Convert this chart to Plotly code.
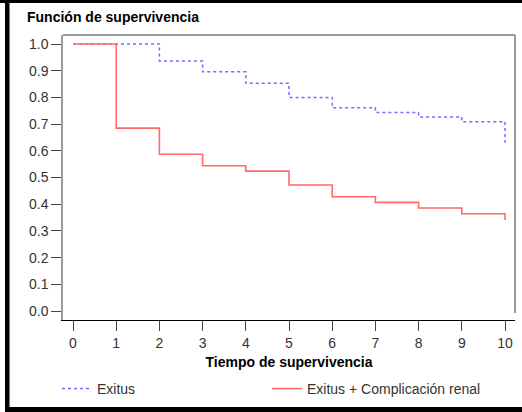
import plotly.graph_objects as go

tiempo = [0, 1, 2, 3, 4, 5, 6, 7, 8, 9, 10]
exitus = [1.0, 1.0, 0.936, 0.896, 0.853, 0.800, 0.761, 0.743, 0.727, 0.709, 0.630]
exitus_renal = [1.0, 0.685, 0.587, 0.544, 0.524, 0.472, 0.428, 0.407, 0.386, 0.364, 0.341]
x_ticks = list(range(0, 11))
y_ticks = [round(i * 0.1, 1) for i in range(11)]

W, H = 522, 412
L, R, T, B = 63, 7, 35, 92
PW, PH = W - L - R, H - T - B

def px(x):
    return (x - L) / PW

def py(y):
    return (H - B - y) / PH

FONT = "Liberation Sans, Arial, sans-serif"

fig = go.Figure()
fig.add_trace(go.Scatter(
    x=tiempo, y=exitus, mode="lines", name="Exitus", legend="legend",
    line=dict(shape="hv", color="#6f6fff", width=1.5, dash="dot"),
))
fig.add_trace(go.Scatter(
    x=tiempo, y=exitus_renal, mode="lines", name="Exitus + Complicación renal",
    legend="legend2",
    line=dict(shape="hv", color="#ff6a6a", width=1.6),
))

shapes = [
    # outer black frame pieces
    dict(type="rect", xref="paper", yref="paper", x0=px(5), x1=px(9.5), y0=py(H), y1=py(0),
         fillcolor="black", line=dict(width=0)),
    dict(type="rect", xref="paper", yref="paper", x0=px(0), x1=px(W), y0=py(3), y1=py(0),
         fillcolor="black", line=dict(width=0)),
    dict(type="rect", xref="paper", yref="paper", x0=px(5), x1=px(W), y0=py(H), y1=py(407),
         fillcolor="black", line=dict(width=0)),
    # top and right gray frame
    dict(type="line", xref="paper", yref="paper", x0=0, x1=1, y0=1, y1=1,
         line=dict(color="#9a9a9a", width=2)),
    dict(type="line", xref="paper", yref="paper", x0=1, x1=1, y0=py(313), y1=1,
         line=dict(color="#9a9a9a", width=2)),
]

legend_common = dict(
    orientation="h", xanchor="left", y=py(389), yanchor="middle",
    font=dict(family=FONT, size=14, color="#333333"),
    bgcolor="rgba(0,0,0,0)", borderwidth=0, itemclick=False,
)

fig.update_layout(
    width=W, height=H,
    margin=dict(l=L, r=R, t=T, b=B),
    paper_bgcolor="white", plot_bgcolor="white",
    font=dict(family=FONT, size=14, color="#333333"),
    showlegend=True,
    legend=dict(x=px(57), **legend_common),
    legend2=dict(x=px(267), **legend_common),
    shapes=shapes,
    annotations=[
        dict(text="<b>Función de supervivencia</b>", xref="paper", yref="paper",
             x=px(25), y=py(17), xanchor="left", yanchor="middle", showarrow=False,
             font=dict(family=FONT, size=14, color="black")),
    ],
    xaxis=dict(
        range=[-10 / 43.2, 10 + 10 / 43.2], tickvals=x_ticks,
        ticks="outside", ticklen=10, tickwidth=1, tickcolor="#444444",
        showline=True, linecolor="black", linewidth=1,
        showgrid=False, zeroline=False,
        tickfont=dict(family=FONT, size=14, color="#333333"),
        title=dict(text="<b>Tiempo de supervivencia</b>", standoff=7,
                   font=dict(family=FONT, size=14, color="black")),
    ),
    yaxis=dict(
        range=[-9 / 267, 1 + 9 / 267], tickvals=y_ticks, tickformat=".1f",
        ticks="outside", ticklen=10, tickwidth=1, tickcolor="#444444",
        showline=True, linecolor="#9a9a9a", linewidth=1.5,
        showgrid=False, zeroline=False,
        tickfont=dict(family=FONT, size=14, color="#333333"),
    ),
)

fig.write_html("out.html")
